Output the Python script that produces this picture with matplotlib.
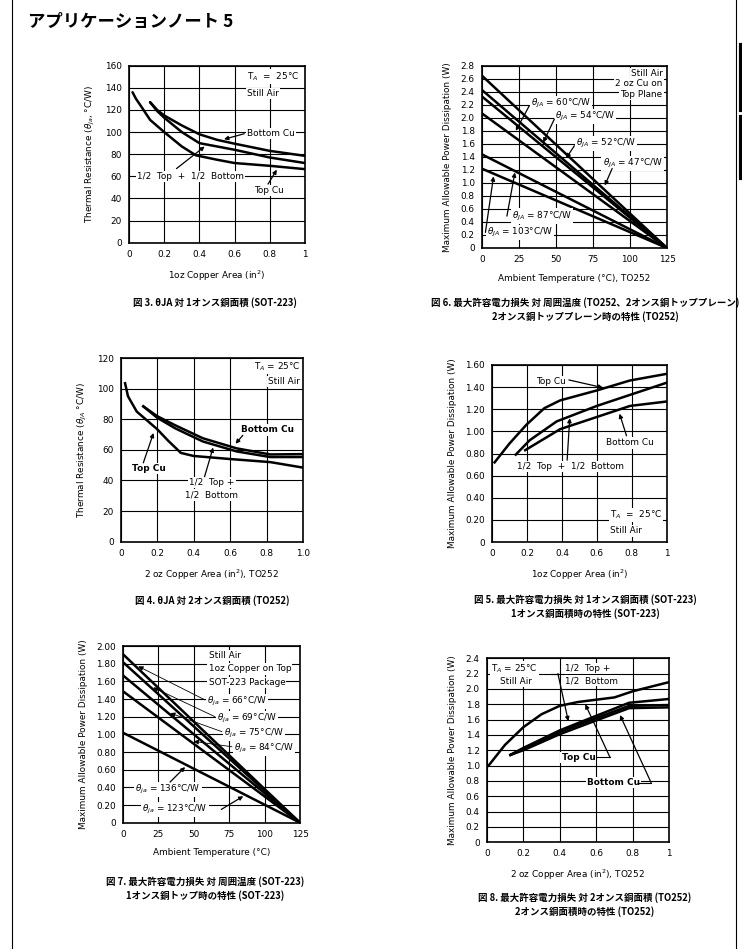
import numpy as np
import matplotlib.pyplot as plt
from matplotlib.lines import Line2D

plt.rcParams['font.family'] = ['DejaVu Sans']
JP = ['Noto Sans CJK JP', 'DejaVu Sans']

# ---- data ----
# fig A: SOT-223, theta_ja vs 1oz copper area
a_top_x = [0.02, 0.04, 0.07, 0.12, 0.2, 0.3, 0.38, 0.5, 0.6, 0.8, 1.0]
a_top_y = [136, 130, 123, 111, 100, 87, 79, 75, 72, 69.5, 66.5]
a_half_x = [0.12, 0.16, 0.2, 0.3, 0.4, 0.5, 0.6, 0.8, 1.0]
a_half_y = [127, 119, 113, 100, 90, 87, 84, 77, 72]
a_bot_x = [0.12, 0.16, 0.2, 0.3, 0.4, 0.5, 0.6, 0.8, 1.0]
a_bot_y = [127, 120, 115, 106, 98, 93, 89.5, 83, 78.5]

# fig B: TO252 max power vs ambient temperature (lines end at 125 C, 0 W)
b_theta = [47, 52, 54, 60, 87, 103]
b_p_at_0 = [2.65, 2.43, 2.33, 2.07, 1.44, 1.22]
b_temp = [0, 125]

# fig C: TO252, theta_ja vs 2oz copper area
c_top_x = [0.024, 0.04, 0.088, 0.2, 0.26, 0.33, 0.4, 0.6, 0.82, 1.0]
c_top_y = [103.5, 95, 85, 73.5, 66, 58, 56, 54, 52, 48.4]
c_half_x = [0.124, 0.2, 0.3, 0.45, 0.635, 0.82, 1.0]
c_half_y = [88.4, 81, 74, 65.5, 59, 55.3, 55.3]
c_bot_x = [0.124, 0.2, 0.3, 0.45, 0.635, 0.82, 1.0]
c_bot_y = [88.4, 82, 76, 67.6, 61, 57, 57.2]

# fig D: SOT-223 max power vs 1oz copper area
d_top_x = [0.015, 0.1, 0.197, 0.3, 0.39, 0.6, 0.79, 1.0]
d_top_y = [0.72, 0.89, 1.06, 1.21, 1.28, 1.37, 1.46, 1.52]
d_half_x = [0.136, 0.216, 0.37, 0.6, 0.79, 1.0]
d_half_y = [0.79, 0.92, 1.09, 1.23, 1.33, 1.44]
d_bot_x = [0.19, 0.39, 0.6, 0.79, 1.0]
d_bot_y = [0.83, 1.02, 1.13, 1.23, 1.27]

# fig E: SOT-223 max power vs ambient temperature
e_p_at_0 = [1.91, 1.82, 1.67, 1.49, 1.02]
e_temp = [0, 125]

# fig F: TO252 max power vs 2oz copper area
f_x1 = [0.01, 0.1, 0.2, 0.3, 0.4, 0.5, 0.6, 0.7, 0.8, 0.9, 1.0]
f_y1 = [1.0, 1.27, 1.5, 1.67, 1.78, 1.83, 1.86, 1.89, 1.97, 2.03, 2.09]
f_x = [0.13, 0.2, 0.4, 0.6, 0.78, 1.0]
f_y2 = [1.14, 1.23, 1.46, 1.65, 1.82, 1.87]
f_y3 = [1.14, 1.22, 1.44, 1.62, 1.78, 1.79]
f_y4 = [1.14, 1.20, 1.41, 1.59, 1.75, 1.76]

W, H = 742, 949
fig = plt.figure(figsize=(W / 100, H / 100), dpi=100)

FS = 6.4
LW = 1.8
BOX = dict(fc='white', ec='none', pad=0.8)


def make_axes(l, r, t, b):
    return fig.add_axes([l / W, 1 - b / H, (r - l) / W, (b - t) / H])


def setup(ax, xlim, xt, xl, ylim, yt, yl, xlabel, ylabel):
    ax.set_xlim(xlim)
    ax.set_ylim(ylim)
    ax.set_xticks(xt, xl)
    ax.set_yticks(yt, yl)
    ax.grid(True, color='black', lw=0.8)
    ax.tick_params(length=0, labelsize=FS, pad=5)
    for s in ax.spines.values():
        s.set_linewidth(1.2)
    ax.set_xlabel(xlabel, fontsize=FS, labelpad=7)
    ax.set_ylabel(ylabel, fontsize=FS, labelpad=6)


def txt(ax, x, y, s, ha='left', bold=False, **kw):
    ax.text(x, y, s, fontsize=FS, ha=ha, va='center', bbox=BOX, zorder=4,
            fontweight='bold' if bold else 'normal', **kw)


def arrow(ax, tail, tip, lw=0.9, head=6):
    ax.annotate('', xy=tip, xytext=tail, zorder=5,
                arrowprops=dict(arrowstyle='-|>', lw=lw, color='k',
                                mutation_scale=head, shrinkA=0, shrinkB=0))


def frac_labels(vals, fmt):
    return ['0' if v == 0 else ('1' if fmt == 'int1' and v == 1 else
            (f'{v:.1f}' if fmt in ('1f', 'int1') else f'{v:.2f}')) for v in vals]


area5 = [0, 0.2, 0.4, 0.6, 0.8, 1.0]
temps = [0, 25, 50, 75, 100, 125]

# ---------------- A ----------------
ax = make_axes(129, 305, 65.7, 242.7)
setup(ax, (0, 1), area5, frac_labels(area5, 'int1'), (0, 160),
      range(0, 161, 20), [str(v) for v in range(0, 161, 20)],
      '1oz Copper Area (in$^2$)', 'Thermal Resistance ($\\theta_{ja}$, °C/W)')
for x, y in [(a_top_x, a_top_y), (a_half_x, a_half_y), (a_bot_x, a_bot_y)]:
    ax.plot(x, y, color='k', lw=LW, solid_capstyle='round')
txt(ax, 0.67, 150, 'T$_A$  =  25°C')
txt(ax, 0.67, 135, 'Still Air')
txt(ax, 0.67, 99, 'Bottom Cu')
arrow(ax, (0.655, 98.5), (0.54, 93.5))
txt(ax, 0.045, 60, '1/2  Top  +  1/2  Bottom')
arrow(ax, (0.27, 67), (0.43, 87))
txt(ax, 0.71, 47.5, 'Top Cu')
arrow(ax, (0.79, 53), (0.84, 66))

# ---------------- B ----------------
ax = make_axes(481.7, 667, 65.7, 248)
yt = np.round(np.arange(0, 2.81, 0.2), 1)
setup(ax, (0, 125), temps, [str(t) for t in temps], (0, 2.8),
      yt, frac_labels(yt, '1f'),
      'Ambient Temperature (°C), TO252', 'Maximum Allowable Power Dissipation (W)')
for p in b_p_at_0:
    ax.plot(b_temp, [p, 0], color='k', lw=LW)
txt(ax, 122, 2.68, 'Still Air', ha='right')
txt(ax, 122, 2.52, '2 oz Cu on', ha='right')
txt(ax, 122, 2.36, 'Top Plane', ha='right')
txt(ax, 33, 2.22, '$\\theta_{JA}$ = 60°C/W')
arrow(ax, (32, 2.18), (23, 1.80))
txt(ax, 49.5, 2.02, '$\\theta_{JA}$ = 54°C/W')
arrow(ax, (49, 1.98), (41.5, 1.62))
txt(ax, 63.5, 1.61, '$\\theta_{JA}$ = 52°C/W')
arrow(ax, (62.5, 1.57), (57, 1.38))
txt(ax, 81.5, 1.30, '$\\theta_{JA}$ = 47°C/W')
arrow(ax, (88, 1.22), (83, 0.96))
txt(ax, 20.5, 0.49, '$\\theta_{JA}$ = 87°C/W')
arrow(ax, (17, 0.49), (22.4, 1.16))
txt(ax, 3.8, 0.24, '$\\theta_{JA}$ = 103°C/W')
arrow(ax, (2.5, 0.24), (8, 1.10))

# ---------------- C ----------------
ax = make_axes(120.7, 303, 358, 541.7)
setup(ax, (0, 1), area5, frac_labels(area5, '1f'), (0, 120),
      range(0, 121, 20), [str(v) for v in range(0, 121, 20)],
      '2 oz Copper Area (in$^2$), TO252', 'Thermal Resistance ($\\theta_{JA}$ °C/W)')
for x, y in [(c_top_x, c_top_y), (c_half_x, c_half_y), (c_bot_x, c_bot_y)]:
    ax.plot(x, y, color='k', lw=LW)
txt(ax, 0.985, 114.5, 'T$_A$ = 25°C', ha='right')
txt(ax, 0.985, 104.7, 'Still Air', ha='right')
txt(ax, 0.66, 73, 'Bottom Cu', bold=True)
arrow(ax, (0.67, 69.5), (0.63, 64))
txt(ax, 0.06, 48, 'Top Cu', bold=True)
arrow(ax, (0.124, 51.5), (0.18, 71))
txt(ax, 0.5, 38.6, '1/2  Top +', ha='center')
txt(ax, 0.5, 30.5, '1/2  Bottom', ha='center')
arrow(ax, (0.46, 42.5), (0.507, 61.5))

# ---------------- D ----------------
ax = make_axes(492, 666.7, 365, 542)
yt = np.round(np.arange(0, 1.61, 0.2), 1)
setup(ax, (0, 1), area5, frac_labels(area5, 'int1'), (0, 1.6),
      yt, frac_labels(yt, '2f'),
      '1oz Copper Area (in$^2$)', 'Maximum Allowable Power Dissipation (W)')
for x, y in [(d_top_x, d_top_y), (d_half_x, d_half_y), (d_bot_x, d_bot_y)]:
    ax.plot(x, y, color='k', lw=LW)
txt(ax, 0.25, 1.45, 'Top Cu')
arrow(ax, (0.44, 1.465), (0.635, 1.395))
txt(ax, 0.65, 0.895, 'Bottom Cu')
arrow(ax, (0.77, 0.96), (0.73, 1.16))
txt(ax, 0.145, 0.68, '1/2  Top  +  1/2  Bottom')
arrow(ax, (0.43, 0.74), (0.445, 1.12))
txt(ax, 0.675, 0.245, 'T$_A$  =  25°C')
txt(ax, 0.675, 0.10, 'Still Air')

# ---------------- E ----------------
ax = make_axes(122.7, 300, 646, 822.7)
yt = np.round(np.arange(0, 2.01, 0.2), 1)
setup(ax, (0, 125), temps, [str(t) for t in temps], (0, 2.0),
      yt, frac_labels(yt, '2f'),
      'Ambient Temperature (°C)', 'Maximum Allowable Power Dissipation (W)')
for p in e_p_at_0:
    ax.plot(e_temp, [p, 0], color='k', lw=LW)
txt(ax, 60.5, 1.89, 'Still Air')
txt(ax, 60.5, 1.74, '1oz Copper on Top')
txt(ax, 60.5, 1.59, 'SOT-223 Package')
txt(ax, 59.5, 1.37, '$\\theta_{ja}$ = 66°C/W')
arrow(ax, (58, 1.39), (11, 1.77), lw=0.6, head=7)
txt(ax, 66.5, 1.18, '$\\theta_{ja}$ = 69°C/W')
arrow(ax, (65, 1.20), (21.5, 1.53), lw=0.6, head=7)
txt(ax, 71.5, 1.01, '$\\theta_{ja}$ = 75°C/W')
arrow(ax, (70, 1.03), (33.5, 1.24), lw=0.6, head=7)
txt(ax, 78.5, 0.84, '$\\theta_{ja}$ = 84°C/W')
arrow(ax, (77, 0.86), (50, 0.92), lw=0.6, head=7)
txt(ax, 9, 0.377, '$\\theta_{ja}$ = 136°C/W')
arrow(ax, (33.4, 0.46), (44, 0.63))
txt(ax, 13.8, 0.15, '$\\theta_{ja}$ = 123°C/W')
arrow(ax, (69.5, 0.15), (85, 0.30))

# ---------------- F ----------------
ax = make_axes(486.7, 669.3, 658.3, 842.3)
yt = np.round(np.arange(0, 2.41, 0.2), 1)
setup(ax, (0, 1), area5, frac_labels(area5, 'int1'), (0, 2.4),
      yt, frac_labels(yt, '1f'),
      '2 oz Copper Area (in$^2$), TO252', 'Maximum Allowable Power Dissipation (W)')
ax.plot(f_x1, f_y1, color='k', lw=LW)
for y in (f_y2, f_y3, f_y4):
    ax.plot(f_x, y, color='k', lw=LW)
txt(ax, 0.025, 2.27, 'T$_A$ = 25°C')
txt(ax, 0.075, 2.10, 'Still Air')
txt(ax, 0.43, 2.27, '1/2  Top +')
txt(ax, 0.43, 2.11, '1/2  Bottom')
ax.plot([0.35, 0.4], [2.2, 2.2], color='k', lw=0.8, zorder=5)
arrow(ax, (0.39, 2.2), (0.447, 1.58))
txt(ax, 0.41, 1.11, 'Top Cu', bold=True)
ax.plot([0.6, 0.675], [1.11, 1.11], color='k', lw=0.8, zorder=5)
arrow(ax, (0.675, 1.11), (0.54, 1.80))
txt(ax, 0.55, 0.78, 'Bottom Cu', bold=True)
ax.plot([0.83, 0.9], [0.78, 0.78], color='k', lw=0.8, zorder=5)
arrow(ax, (0.9, 0.78), (0.73, 1.66))

# ---------------- page furniture ----------------
fig.text(28 / W, 1 - 22 / H, 'アプリケーションノート 5', fontsize=12.5, fontweight='bold',
         family=JP, va='center', ha='left')

captions = [
    (215, [303], ['図 3. θJA 対 1オンス銅面積 (SOT-223)']),
    (585, [303, 317], ['図 6. 最大許容電力損失 対 周囲温度 (TO252、2オンス銅トッププレーン)',
                       '2オンス銅トッププレーン時の特性 (TO252)']),
    (212, [601], ['図 4. θJA 対 2オンス銅面積 (TO252)']),
    (585, [600, 614], ['図 5. 最大許容電力損失 対 1オンス銅面積 (SOT-223)',
                       '1オンス銅面積時の特性 (SOT-223)']),
    (205, [882, 896], ['図 7. 最大許容電力損失 対 周囲温度 (SOT-223)',
                       '1オンス銅トップ時の特性 (SOT-223)']),
    (585, [898, 912], ['図 8. 最大許容電力損失 対 2オンス銅面積 (TO252)',
                       '2オンス銅面積時の特性 (TO252)']),
]
for cx, ys, lines in captions:
    for y, s in zip(ys, lines):
        fig.text(cx / W, 1 - y / H, s, fontsize=6.8, fontweight='bold', family=JP,
                 ha='center', va='center')

# page border lines and side tabs
fig.add_artist(Line2D([12 / W, 12 / W], [0, 1], color='k', lw=0.8))
fig.add_artist(Line2D([736 / W, 736 / W], [0, 1], color='k', lw=0.8))
fig.add_artist(Line2D([740.5 / W, 740.5 / W], [1 - 45 / H, 1 - 110 / H], color='k', lw=3))
fig.add_artist(Line2D([740.5 / W, 740.5 / W], [1 - 117 / H, 1 - 178 / H], color='k', lw=3))

fig.savefig('out.png', dpi=100)
